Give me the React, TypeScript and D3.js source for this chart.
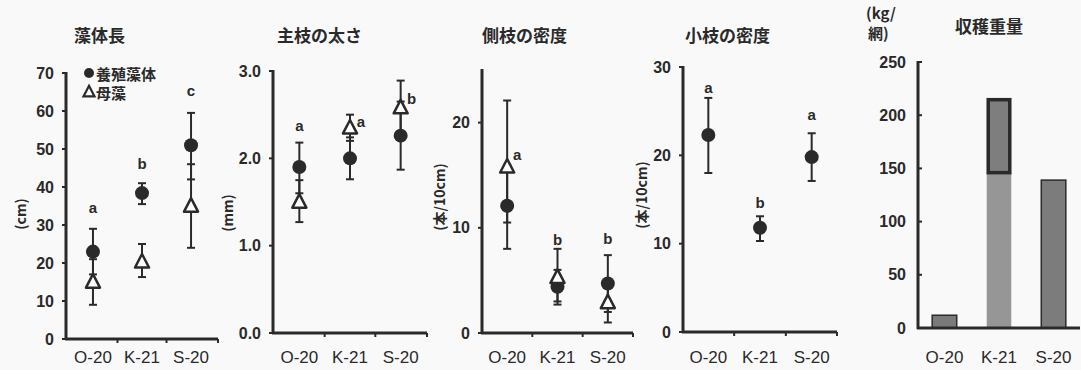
import React from "react";
import * as d3 from "d3";

const categories = ["O-20", "K-21", "S-20"];

// 藻体長 (cm)
const lenCultured = [23, 38.4, 51];
const lenCulturedLo = [17, 35.5, 42];
const lenCulturedHi = [29, 41, 59.5];
const lenMother = [15, 20.3, 35];
const lenMotherLo = [9, 16.3, 24];
const lenMotherHi = [21, 25, 46];
const lenLetters = ["a", "b", "c"];
const lenLetterY = [34.7, 46.3, 65.5];
const lenTicks = [0, 10, 20, 30, 40, 50, 60, 70];

// 主枝の太さ (mm)
const thkCultured = [1.9, 2.0, 2.26];
const thkCulturedLo = [1.6, 1.76, 1.87];
const thkCulturedHi = [2.18, 2.24, 2.65];
const thkMother = [1.5, 2.35, 2.58];
const thkMotherLo = [1.27, 2.2, 2.28];
const thkMotherHi = [1.75, 2.5, 2.89];
const thkLetters = ["a", "a", "b"];
const thkLetterY = [2.38, 2.42, 2.69];
const thkTicks = [0, 1, 2, 3];

// 側枝の密度 (本/10cm)
const latCultured = [12.1, 4.4, 4.7];
const latCulturedLo = [8.0, 3.0, 2.0];
const latCulturedHi = [16, 6, 7.4];
const latMother = [15.8, 5.3, 2.9];
const latMotherLo = [10.5, 2.7, 1.0];
const latMotherHi = [22.1, 8.0, 4.8];
const latLetters = ["a", "b", "b"];
const latLetterY = [17, 8.9, 9.0];
const latTicks = [0, 10, 20];

// 小枝の密度 (本/10cm)
const twgCultured = [22.3, 11.8, 19.8];
const twgCulturedLo = [18.0, 10.3, 17.1];
const twgCulturedHi = [26.5, 13.1, 22.5];
const twgLetters = ["a", "b", "a"];
const twgLetterY = [27.7, 14.7, 24.6];
const twgTicks = [0, 10, 20, 30];

// 収穫重量 (kg/網)
const harvestLower = [12, 146, 139];
const harvestUpper = [0, 70, 0];
const harvestTicks = [0, 50, 100, 150, 200, 250];

const INK = "#2a2a2a";
const NUM_FONT = "'Liberation Sans', Arial, sans-serif";
const JP_FONT = "'Noto Sans CJK JP', 'Noto Sans', sans-serif";

type Series = { v: number[]; lo: number[]; hi: number[] };

type PanelCfg = {
  title: string;
  titleX: number;
  unit: string;
  unitX: number;
  unitY: number;
  x0: number;
  x1: number;
  yTop: number;
  yBot: number;
  max: number;
  pad: number;
  ticks: number[];
  fmt: (n: number) => string;
  cultured: Series;
  mother?: Series;
  letters: string[];
  letterY: number[];
  letterDx: number[];
};

const panels: PanelCfg[] = [
  {
    title: "藻体長", titleX: 74, unit: "(cm)", unitX: 20, unitY: 214,
    x0: 66, x1: 218, yTop: 73, yBot: 339, max: 70, pad: 0.55, ticks: lenTicks,
    fmt: d3.format("d"),
    cultured: { v: lenCultured, lo: lenCulturedLo, hi: lenCulturedHi },
    mother: { v: lenMother, lo: lenMotherLo, hi: lenMotherHi },
    letters: lenLetters, letterY: lenLetterY, letterDx: [0, 0, 0],
  },
  {
    title: "主枝の太さ", titleX: 277, unit: "(mm)", unitX: 227, unitY: 213,
    x0: 273, x1: 427, yTop: 71, yBot: 333, max: 3, pad: 0.52, ticks: thkTicks,
    fmt: d3.format(".1f"),
    cultured: { v: thkCultured, lo: thkCulturedLo, hi: thkCulturedHi },
    mother: { v: thkMother, lo: thkMotherLo, hi: thkMotherHi },
    letters: thkLetters, letterY: thkLetterY, letterDx: [0, 11, 11],
  },
  {
    title: "側枝の密度", titleX: 482, unit: "(本/10cm)", unitX: 439, unitY: 197,
    x0: 482, x1: 633, yTop: 70, yBot: 333, max: 25, pad: 0.5, ticks: latTicks,
    fmt: d3.format("d"),
    cultured: { v: latCultured, lo: latCulturedLo, hi: latCulturedHi },
    mother: { v: latMother, lo: latMotherLo, hi: latMotherHi },
    letters: latLetters, letterY: latLetterY, letterDx: [10, 0, 0],
  },
  {
    title: "小枝の密度", titleX: 685, unit: "(本/10cm)", unitX: 641, unitY: 195,
    x0: 683, x1: 837, yTop: 67, yBot: 332, max: 30, pad: 0.49, ticks: twgTicks,
    fmt: d3.format("d"),
    cultured: { v: twgCultured, lo: twgCulturedLo, hi: twgCulturedHi },
    letters: twgLetters, letterY: twgLetterY, letterDx: [0, 0, 0],
  },
];

function triPath(cx: number, cy: number, s: number) {
  const h = s * 0.9;
  return `M${cx},${cy - h * 0.62}L${cx + s / 2},${cy + h * 0.45}L${cx - s / 2},${cy + h * 0.45}Z`;
}

function ScatterPanel({ p }: { p: PanelCfg }) {
  const y = d3.scaleLinear().domain([0, p.max]).range([p.yBot, p.yTop]);
  const x = d3.scalePoint<string>().domain(categories).range([p.x0, p.x1]).padding(p.pad);
  const step = x.step();
  const errBar = (s: Series, key: string) =>
    categories.map((c, i) => {
      const cx = x(c)!;
      return (
        <g key={key + i} stroke={INK} strokeWidth={2}>
          <line x1={cx} x2={cx} y1={y(s.lo[i])} y2={y(s.hi[i])} />
          <line x1={cx - 4} x2={cx + 4} y1={y(s.lo[i])} y2={y(s.lo[i])} />
          <line x1={cx - 4} x2={cx + 4} y1={y(s.hi[i])} y2={y(s.hi[i])} />
        </g>
      );
    });
  return (
    <g>
      <text x={p.titleX} y={42} fontFamily={JP_FONT} fontWeight={700} fontSize={17}
        fill={INK}>{p.title}</text>
      <text transform={`translate(${p.unitX},${p.unitY}) rotate(-90)`} textAnchor="middle"
        dominantBaseline="central" fontFamily={JP_FONT} fontWeight={700} fontSize={14} fill={INK}>{p.unit}</text>
      {/* y axis */}
      <line x1={p.x0} x2={p.x0} y1={p.yTop - 1} y2={p.yBot + 1} stroke={INK} strokeWidth={3} />
      {p.ticks.map((t) => (
        <g key={t}>
          <line x1={p.x0 - 4} x2={p.x0} y1={y(t)} y2={y(t)} stroke={INK} strokeWidth={2} />
          <text x={p.x0 - 12} y={y(t)} textAnchor="end" dominantBaseline="central"
            fontFamily={NUM_FONT} fontWeight={700} fontSize={16} fill={INK}>{p.fmt(t)}</text>
        </g>
      ))}
      {/* x axis */}
      <line x1={p.x0 - 1} x2={p.x1} y1={p.yBot} y2={p.yBot} stroke={INK} strokeWidth={3} />
      {categories.slice(0, 2).map((c) => (
        <line key={c} x1={x(c)! + step / 2} x2={x(c)! + step / 2} y1={p.yBot} y2={p.yBot + 4}
          stroke={INK} strokeWidth={2} />
      ))}
      <line x1={p.x1} x2={p.x1} y1={p.yBot} y2={p.yBot + 4} stroke={INK} strokeWidth={2} />
      {categories.map((c) => (
        <text key={c} x={x(c)!} y={363} textAnchor="middle" fontFamily={NUM_FONT}
          fontSize={17} fill={INK}>{c}</text>
      ))}
      {p.mother && errBar(p.mother, "m")}
      {errBar(p.cultured, "c")}
      {categories.map((c, i) => (
        <circle key={"cc" + c} cx={x(c)!} cy={y(p.cultured.v[i])} r={7} fill={INK} />
      ))}
      {p.mother && categories.map((c, i) => (
        <path key={"mt" + c} d={triPath(x(c)!, y(p.mother!.v[i]), 14)} fill="#fff"
          stroke={INK} strokeWidth={2.5} strokeLinejoin="round" />
      ))}
      {categories.map((c, i) => (
        <text key={"lt" + c} x={x(c)! + p.letterDx[i]} y={y(p.letterY[i])} textAnchor="middle"
          dominantBaseline="central" fontFamily={NUM_FONT} fontWeight={700} fontSize={15}
          fill={INK}>{p.letters[i]}</text>
      ))}
    </g>
  );
}

function BarPanel() {
  const x0 = 918, x1 = 1080, yTop = 62, yBot = 328;
  const y = d3.scaleLinear().domain([0, 250]).range([yBot, yTop]);
  const x = d3.scaleBand<string>().domain(categories).range([x0, x1])
    .paddingInner(0.55).paddingOuter(0.26);
  const bw = x.bandwidth();
  const lowerFill = ["#7a7a7a", "#969696", "#7c7c7c"];
  return (
    <g>
      <text x={955} y={33} fontFamily={JP_FONT} fontWeight={700} fontSize={17}
        fill={INK}>収穫重量</text>
      <text x={866} y={19} fontFamily={JP_FONT} fontWeight={700} fontSize={15} fill={INK}>(kg/</text>
      <text x={868} y={39} fontFamily={JP_FONT} fontWeight={700} fontSize={15} fill={INK}>網)</text>
      {categories.map((c, i) => (
        <g key={c}>
          <rect x={x(c)!} y={y(harvestLower[i])} width={bw}
            height={yBot - y(harvestLower[i])} fill={lowerFill[i]}
            stroke={i === 1 ? "none" : INK} strokeWidth={1.5} />
          {harvestUpper[i] > 0 && (
            <rect x={x(c)! + 1.5} y={y(harvestLower[i] + harvestUpper[i]) + 1.5} width={bw - 3}
              height={y(harvestLower[i]) - y(harvestLower[i] + harvestUpper[i]) - 1.5}
              fill="#7e7e7e" stroke={INK} strokeWidth={3.5} />
          )}
        </g>
      ))}
      <line x1={x0} x2={x0} y1={yTop - 1} y2={yBot + 1} stroke={INK} strokeWidth={3} />
      {harvestTicks.map((t) => (
        <g key={t}>
          <line x1={x0} x2={x0 + 4} y1={y(t)} y2={y(t)} stroke={INK} strokeWidth={2} />
          <text x={x0 - 12} y={y(t)} textAnchor="end" dominantBaseline="central"
            fontFamily={NUM_FONT} fontWeight={700} fontSize={16} fill={INK}>{t}</text>
        </g>
      ))}
      <line x1={x0 - 1} x2={x1} y1={yBot} y2={yBot} stroke={INK} strokeWidth={3} />
      {categories.map((c) => (
        <text key={c} x={x(c)! + bw / 2} y={363} textAnchor="middle" fontFamily={NUM_FONT}
          fontSize={17} fill={INK}>{c}</text>
      ))}
    </g>
  );
}

export default function App() {
  return (
    <svg width={1081} height={370} style={{ position: "absolute", left: 0, top: 0 }}>
      <rect width={1081} height={370} fill="#f9f9f9" />
      {panels.map((p) => <ScatterPanel key={p.title} p={p} />)}
      {/* legend */}
      <circle cx={89} cy={73} r={5} fill={INK} />
      <text x={96} y={73} dominantBaseline="central" fontFamily={JP_FONT} fontWeight={700}
        fontSize={15} fill={INK}>養殖藻体</text>
      <path d={triPath(89, 92, 11)} fill="#fff" stroke={INK} strokeWidth={2.2} />
      <text x={96} y={92} dominantBaseline="central" fontFamily={JP_FONT} fontWeight={700}
        fontSize={15} fill={INK}>母藻</text>
      <BarPanel />
    </svg>
  );
}
